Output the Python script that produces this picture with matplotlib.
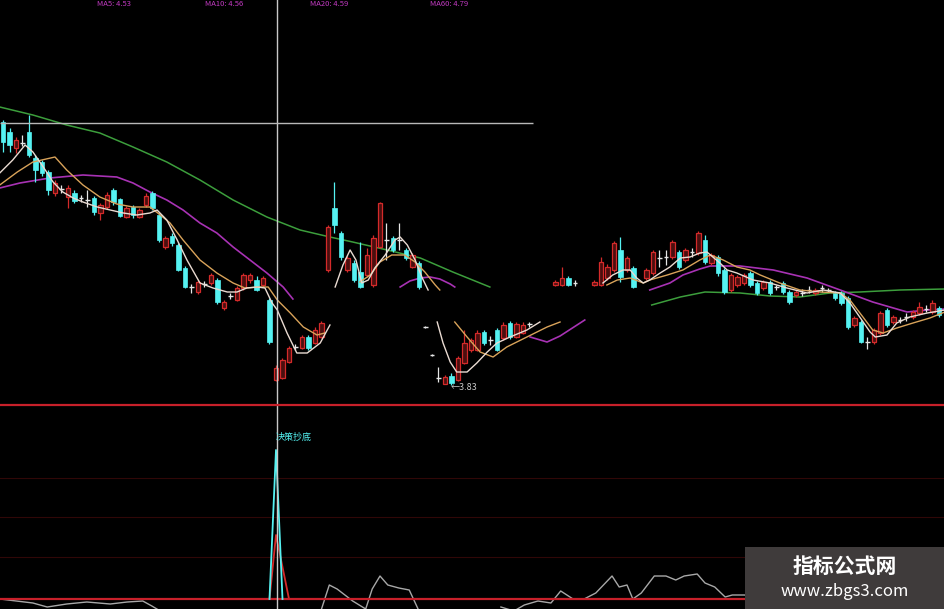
import numpy as np
import matplotlib
matplotlib.use("Agg")
import matplotlib.pyplot as plt
from matplotlib.patches import Rectangle
from matplotlib.lines import Line2D

plt.rcParams['font.family'] = ['Noto Sans CJK SC', 'DejaVu Sans']

nan = np.nan

# daily candles (index = trading day)
opens = [6.46, 6.36, 6.20, 6.25, 6.36, 6.10, 6.06, 5.96, 5.75, 5.79,
         5.71, 5.75, 5.70, 5.68, 5.70, 5.55, 5.61, 5.78, 5.69, 5.51,
         5.61, 5.51, 5.63, 5.75, 5.53, 5.21, 5.32, 5.23, 5.00, 4.81,
         4.76, 4.84, 4.85, 4.88, 4.60, 4.72, 4.68, 4.80, 4.88, 4.88,
         4.83, 4.68, 3.88, 3.90, 4.06, 4.21, 4.20, 4.31, 4.25, 4.31,
         4.98, 5.60, 5.35, 4.98, 5.05, 4.96, 4.93, 4.83, 5.21, 5.28,
         5.30, 5.28, 5.18, 5.01, 5.05, 4.41, 4.13, 3.90, 3.84, 3.92,
         3.88, 4.05, 4.18, 4.18, 4.36, 4.28, 4.38, 4.30, 4.45, 4.31,
         4.35, 4.44, nan, nan, nan, 4.83, 4.83, 4.90, 4.85, nan,
         nan, 4.83, 4.83, 4.90, 4.98, 5.18, 4.98, 5.00, nan, 4.90,
         4.95, 5.10, 5.11, 5.11, 5.16, 5.08, 5.16, 5.15, 5.28, 5.05,
         5.11, 4.98, 4.78, 4.83, 4.85, 4.95, 4.85, 4.80, 4.86, 4.81,
         4.85, 4.76, 4.73, 4.75, 4.78, 4.75, 4.80, 4.78, 4.75, 4.75,
         4.70, 4.43, 4.46, 4.26, 4.26, 4.35, 4.58, 4.46, 4.48, 4.51,
         4.51, 4.55, 4.59, 4.56, 4.60]
highs = [6.48, 6.40, 6.31, 6.33, 6.53, 6.13, 6.08, 5.98, 5.88, 5.83,
         5.83, 5.78, 5.73, 5.78, 5.72, 5.65, 5.76, 5.80, 5.70, 5.62,
         5.63, 5.60, 5.75, 5.77, 5.55, 5.32, 5.35, 5.25, 5.02, 4.84,
         4.88, 4.87, 4.95, 4.90, 4.68, 4.75, 4.82, 4.95, 4.95, 4.92,
         4.92, 4.70, 4.03, 4.10, 4.22, 4.24, 4.33, 4.33, 4.41, 4.47,
         5.43, 5.86, 5.37, 5.12, 5.08, 5.26, 5.20, 5.33, 5.66, 5.45,
         5.32, 5.45, 5.20, 5.15, 5.07, 4.42, 4.14, 4.01, 3.93, 3.95,
         4.12, 4.38, 4.30, 4.38, 4.38, 4.32, 4.40, 4.46, 4.47, 4.46,
         4.46, 4.46, nan, nan, nan, 4.88, 5.01, 4.92, 4.88, nan,
         nan, 4.88, 5.11, 5.04, 5.27, 5.31, 5.12, 5.02, nan, 5.00,
         5.18, 5.18, 5.18, 5.28, 5.18, 5.20, 5.20, 5.37, 5.33, 5.15,
         5.13, 5.00, 4.95, 4.93, 4.95, 4.97, 4.87, 4.88, 4.88, 4.83,
         4.87, 4.78, 4.78, 4.79, 4.82, 4.80, 4.83, 4.80, 4.77, 4.77,
         4.72, 4.52, 4.48, 4.31, 4.40, 4.57, 4.60, 4.53, 4.51, 4.55,
         4.58, 4.66, 4.63, 4.68, 4.62]
lows = [6.16, 6.16, 6.15, 6.22, 6.11, 5.86, 5.92, 5.73, 5.72, 5.75,
        5.60, 5.65, 5.66, 5.61, 5.53, 5.48, 5.59, 5.63, 5.51, 5.50,
        5.50, 5.50, 5.61, 5.58, 5.26, 5.19, 5.22, 4.97, 4.80, 4.75,
        4.74, 4.81, 4.83, 4.64, 4.58, 4.69, 4.67, 4.78, 4.85, 4.77,
        4.81, 4.24, 3.87, 3.89, 4.05, 4.18, 4.19, 4.18, 4.24, 4.30,
        4.96, 5.35, 5.08, 4.96, 4.86, 4.80, 4.91, 4.81, 5.20, 5.08,
        5.16, 5.18, 5.08, 5.00, 4.79, 4.40, 4.12, 3.86, 3.84, 3.83,
        3.87, 4.04, 4.16, 4.17, 4.23, 4.23, 4.17, 4.28, 4.29, 4.30,
        4.34, 4.41, nan, nan, nan, 4.82, 4.82, 4.82, 4.82, nan,
        nan, 4.82, 4.82, 4.88, 4.96, 4.86, 4.96, 4.80, nan, 4.88,
        4.93, 5.01, 5.03, 5.09, 4.99, 5.06, 5.11, 5.13, 5.04, 5.03,
        4.92, 4.74, 4.76, 4.81, 4.83, 4.81, 4.73, 4.78, 4.73, 4.78,
        4.74, 4.64, 4.71, 4.72, 4.75, 4.73, 4.76, 4.76, 4.68, 4.63,
        4.39, 4.41, 4.25, 4.19, 4.24, 4.33, 4.41, 4.44, 4.45, 4.47,
        4.49, 4.53, 4.56, 4.54, 4.51]
closes = [6.26, 6.23, 6.28, 6.25, 6.13, 5.98, 5.95, 5.78, 5.85, 5.79,
          5.80, 5.67, 5.70, 5.68, 5.56, 5.63, 5.73, 5.66, 5.52, 5.60,
          5.53, 5.58, 5.72, 5.60, 5.28, 5.30, 5.25, 4.98, 4.81, 4.81,
          4.86, 4.84, 4.93, 4.66, 4.66, 4.72, 4.80, 4.93, 4.93, 4.78,
          4.90, 4.26, 4.00, 4.08, 4.20, 4.21, 4.31, 4.20, 4.38, 4.45,
          5.41, 5.43, 5.11, 5.10, 4.88, 4.81, 5.13, 5.30, 5.65, 5.28,
          5.18, 5.28, 5.10, 5.13, 4.81, 4.41, 4.13, 3.90, 3.91, 3.85,
          4.10, 4.25, 4.28, 4.35, 4.25, 4.28, 4.18, 4.43, 4.31, 4.44,
          4.43, 4.44, nan, nan, nan, 4.86, 4.90, 4.83, 4.85, nan,
          nan, 4.86, 5.06, 5.01, 5.25, 4.91, 5.10, 4.81, nan, 4.98,
          5.16, 5.10, 5.11, 5.26, 5.01, 5.18, 5.16, 5.35, 5.06, 5.13,
          4.95, 4.76, 4.93, 4.91, 4.93, 4.83, 4.75, 4.86, 4.75, 4.81,
          4.76, 4.66, 4.76, 4.75, 4.78, 4.78, 4.80, 4.78, 4.70, 4.65,
          4.41, 4.50, 4.26, 4.26, 4.38, 4.55, 4.43, 4.51, 4.48, 4.51,
          4.56, 4.61, 4.59, 4.65, 4.53]

# moving averages (nan = break in the line)
ma5_x = [-0.5, 1.5, 3.4, 4.6, 6.2, 7.7, 9.2, 10.8, 12.3, 14.5, 16.5, 18.5, 20.6, 22.6, 23.7, 25.2,
         26.8, 28.3, 30.3, 32.3, 34.5, 36.0, 37.5, 39.1, 40.3, 41.4, 42.2, 43.7, 45.2, 46.8, 48.8, 50.3, nan,
         51.1, 52.3, 53.4, 54.3, 55.2, 56.2, 57.2, 58.8, 60.3, 61.1, 62.2, 63.4, 64.5, 65.4, nan,
         66.8, 67.7, 68.8, 69.8, 71.4, 72.9, 74.5, 76.0, 78.0, 80.6, 82.6, nan,
         92.3, 93.8, 95.4, 96.5, 97.5, 98.5, 99.5, 101.1, 102.6, 104.2, 105.7, 107.2, 108.3, 109.2, 110.3,
         111.4, 112.9, 115.4, 118.0, 120.6, 123.7, 126.2, 128.8, 130.3, 131.8, 133.4, 134.2, 136.0, 137.5,
         139.5, 142.2, 144.9]
ma5_y = [5.95, 6.08, 6.23, 6.16, 6.01, 5.86, 5.76, 5.70, 5.66, 5.61, 5.58, 5.55, 5.53, 5.55, 5.58, 5.48,
         5.28, 5.08, 4.85, 4.80, 4.76, 4.76, 4.80, 4.81, 4.80, 4.65, 4.58, 4.35, 4.15, 4.15, 4.25, 4.43, nan,
         4.81, 5.03, 5.18, 5.08, 4.85, 4.88, 5.00, 5.13, 5.28, 5.31, 5.23, 5.08, 4.90, 4.78, nan,
         4.46, 4.25, 4.06, 3.96, 3.96, 4.05, 4.16, 4.25, 4.31, 4.38, 4.46, nan,
         4.85, 4.93, 4.98, 4.98, 4.90, 4.85, 4.88, 4.95, 5.01, 5.10, 5.11, 5.15, 5.16, 5.11, 5.05,
         4.98, 4.95, 4.88, 4.85, 4.80, 4.75, 4.78, 4.75, 4.65, 4.51, 4.36, 4.31, 4.33, 4.45,
         4.51, 4.55, 4.58]

ma10_x = [-0.5, 2.2, 4.6, 8.0, 9.8, 12.3, 14.9, 17.5, 20.0, 22.6, 24.2, 25.7, 27.7, 30.3, 32.9, 35.4,
          37.2, 39.5, 40.8, 42.2, 44.2, 46.2, 48.3, 49.5, nan,
          54.9, 56.5, 58.0, 59.8, 61.8, 63.4, 64.9, 66.5, 67.2, nan,
          69.5, 71.4, 73.4, 75.4, 77.5, 80.6, 83.7, 85.7, nan,
          92.9, 94.5, 96.5, 98.5, 99.5, 102.2, 104.6, 107.2, 108.8, 110.8, 112.9, 114.9, 116.5, 119.5,
          122.6, 125.7, 128.8, 130.3, 132.3, 133.8, 135.4, 137.5, 140.0, 142.6, 144.9]
ma10_y = [5.83, 5.96, 6.06, 6.11, 5.98, 5.83, 5.71, 5.64, 5.61, 5.61, 5.53, 5.45, 5.28, 5.08, 4.95, 4.85,
          4.80, 4.81, 4.81, 4.68, 4.55, 4.41, 4.33, 4.35, nan,
          4.86, 4.93, 5.06, 5.13, 5.13, 5.06, 4.96, 4.83, 4.78, nan,
          4.46, 4.31, 4.16, 4.11, 4.21, 4.31, 4.41, 4.46, nan,
          4.83, 4.88, 4.90, 4.85, 4.88, 4.93, 4.98, 5.08, 5.13, 5.08, 5.01, 4.98, 4.93, 4.85,
          4.78, 4.76, 4.75, 4.68, 4.51, 4.38, 4.35, 4.40, 4.45, 4.50, 4.56]

ma20_x = [-0.5, 2.6, 7.2, 12.3, 17.5, 20.0, 22.6, 25.2, 27.7, 30.3, 32.9, 35.4, 38.0, 40.6, 43.1, 44.6, nan,
          61.1, 62.6, 64.2, 65.7, 67.2, 68.8, 69.5, nan,
          81.1, 83.7, 85.7, 89.5, nan,
          99.5, 102.6, 104.6, 107.2, 108.8, 113.4, 118.5, 123.7, 128.8, 133.8, 139.1, 142.2, 144.9]
ma20_y = [5.80, 5.85, 5.90, 5.93, 5.91, 5.85, 5.76, 5.68, 5.58, 5.45, 5.35, 5.21, 5.08, 4.95, 4.81, 4.69, nan,
          4.81, 4.87, 4.90, 4.91, 4.89, 4.84, 4.81, nan,
          4.31, 4.26, 4.32, 4.48, nan,
          4.78, 4.85, 4.93, 4.99, 5.02, 5.02, 4.98, 4.90, 4.78, 4.66, 4.56, 4.58, 4.59]

ma60_x = [-0.5, 4.6, 9.8, 14.9, 20.0, 25.2, 30.3, 35.4, 40.6, 45.7, 50.3, 53.8, 59.1, 64.2, 69.2, 74.9, nan,
          99.8, 104.2, 108.0, 113.4, 118.0, 122.6, 127.2, 131.8, 138.0, 144.9]
ma60_y = [6.61, 6.53, 6.43, 6.35, 6.21, 6.06, 5.88, 5.68, 5.51, 5.38, 5.31, 5.26, 5.18, 5.10, 4.96, 4.81, nan,
          4.63, 4.71, 4.76, 4.75, 4.72, 4.71, 4.75, 4.76, 4.78, 4.79]

# lower indicator panel
osc_x = [-0.5, 4.6, 6.8, 9.8, 12.9, 16.5, 19.1, 21.5, 22.9, 24.2, nan,
         48.9, 50.2, 51.4, 52.6, 53.8, 55.8, 56.8, 58.0, 59.2, 60.9, 62.5, 64.0, nan,
         76.6, 78.6, 80.2, 82.3, 84.3, 85.8, 87.7, 89.4, 91.2, 93.7, 94.8, 96.0, 96.9, 98.2,
         100.2, 102.0, 103.5, 104.8, 106.8, 108.0, 109.5, 111.1, 112.2, 114.0, 116.5]
osc_y = [0.0, -0.4, -0.8, -0.5, -0.3, -0.5, -0.3, -0.2, -0.7, -1.2, nan,
         -1.2, 1.4, 1.0, 0.4, -0.2, -1.0, 1.0, 2.3, 1.4, 1.1, 0.9, -1.2, nan,
         -0.8, -1.2, -0.6, -0.2, -0.4, 0.8, 0.0, 0.0, 0.6, 2.3, 1.2, 1.4, 0.0, 0.6,
         2.3, 2.3, 1.9, 2.3, 2.5, 1.6, 1.2, 0.2, 0.4, 0.4, 0.3]
sig_x = [41, 42, 43]
sig_cyan = [0, 14.9, 0]
sig_red_x = [41, 42, 43, 44]
sig_red = [0, 6.4, 3.2, 0]
sig_label = '决策抄底'
low_day = 69
low_label = '3.83'
top_labels = ['MA5: 4.53', 'MA10: 4.56', 'MA20: 4.59', 'MA60: 4.79']

RED = '#d42a2a'
CYAN = '#55f2f2'
WHITE = '#e6e6e6'

fig = plt.figure(figsize=(9.45, 6.09), dpi=100, facecolor='black')
ax = fig.add_axes([0, 205 / 609, 1, 404 / 609], facecolor='black')
ax2 = fig.add_axes([0, 0, 1, 205 / 609], facecolor='black')
for a in (ax, ax2):
    a.set_xlim(-3 / 6.5, 942 / 6.5)
    a.set_xticks([])
    a.set_yticks([])
    for s in a.spines.values():
        s.set_visible(False)
ax.set_ylim(3.64, 7.68)
ax2.set_ylim(-1.0, 19.5)

# candles
w = 0.62
for i in range(len(opens)):
    o, h, l, c = opens[i], highs[i], lows[i], closes[i]
    if np.isnan(o):
        continue
    if c > o:
        ax.vlines(i, l, o, color=RED, lw=0.9, zorder=3)
        ax.vlines(i, c, h, color=RED, lw=0.9, zorder=3)
        ax.add_patch(Rectangle((i - w / 2, o), w, c - o, facecolor='#4a0f0f',
                               edgecolor=RED, lw=0.9, zorder=4))
    elif c < o:
        ax.vlines(i, l, h, color=CYAN, lw=0.9, zorder=3)
        ax.add_patch(Rectangle((i - w / 2, c), w, o - c, facecolor=CYAN,
                               edgecolor=CYAN, lw=0.5, zorder=4))
    else:
        ax.vlines(i, l, h, color=WHITE, lw=0.9, zorder=3)
        ax.hlines(o, i - w / 2, i + w / 2, color=WHITE, lw=1.0, zorder=4)

ax.plot(ma60_x, ma60_y, color='#3c9e3c', lw=1.1, zorder=2)
ax.plot(ma20_x, ma20_y, color='#a832b4', lw=1.2, zorder=2)
ax.plot(ma10_x, ma10_y, color='#d9a35a', lw=1.0, zorder=5)
ax.plot(ma5_x, ma5_y, color='#eadbd2', lw=1.0, zorder=5)

ax.annotate('←' + low_label, xy=(low_day - 0.1, lows[low_day] - 0.03), fontsize=6.5,
            color='#c8c8c8', ha='left', va='center', zorder=6)

# cross-hair
ax.axvline(42.15, color='#c8c8c8', lw=1.0, zorder=6)
ax2.axvline(42.15, color='#c8c8c8', lw=1.0, zorder=6)
ax.hlines(6.45, -0.5, 81.5, color='#b8b8b8', lw=1.0, zorder=6)

# lower panel
for g in (12.1, 8.2, 4.2):
    ax2.axhline(g, color='#300707', lw=0.8, zorder=1)
ax2.plot(osc_x, osc_y, color='#a8a8a8', lw=1.0, zorder=2)
ax2.plot(sig_red_x, sig_red, color=RED, lw=1.3, zorder=3)
ax2.plot(sig_x, sig_cyan, color=CYAN, lw=1.3, zorder=4)
ax2.axhline(0, color='#c8202a', lw=1.6, zorder=3)
ax2.text(42, 16.2, sig_label, color=CYAN, fontsize=6.5, ha='left', va='center', zorder=7)

# red separator between the two panels
fig.lines.append(Line2D([0, 1], [204 / 609, 204 / 609], transform=fig.transFigure,
                        color='#c8202a', lw=1.6, zorder=8))

# small header at the very top
for lab, xp in zip(top_labels, [97, 205, 310, 430]):
    fig.text(xp / 945, 1 - 0.5 / 609, lab, color='#c23ac2', fontsize=5.5, ha='left', va='top')

# watermark box
fig.patches.append(Rectangle((745 / 945, 0), 200 / 945, 62 / 609, transform=fig.transFigure,
                             facecolor='#3f3b3b', edgecolor='none', zorder=10))
fig.text(845 / 945, (609 - 566) / 609, '指标公式网', color='white', fontsize=15,
         fontweight='bold', ha='center', va='center', zorder=11)
fig.text(845 / 945, (609 - 592) / 609, 'www.zbgs3.com', color='white', fontsize=12,
         ha='center', va='center', zorder=11)

fig.savefig('out.png', dpi=100, facecolor='black')
